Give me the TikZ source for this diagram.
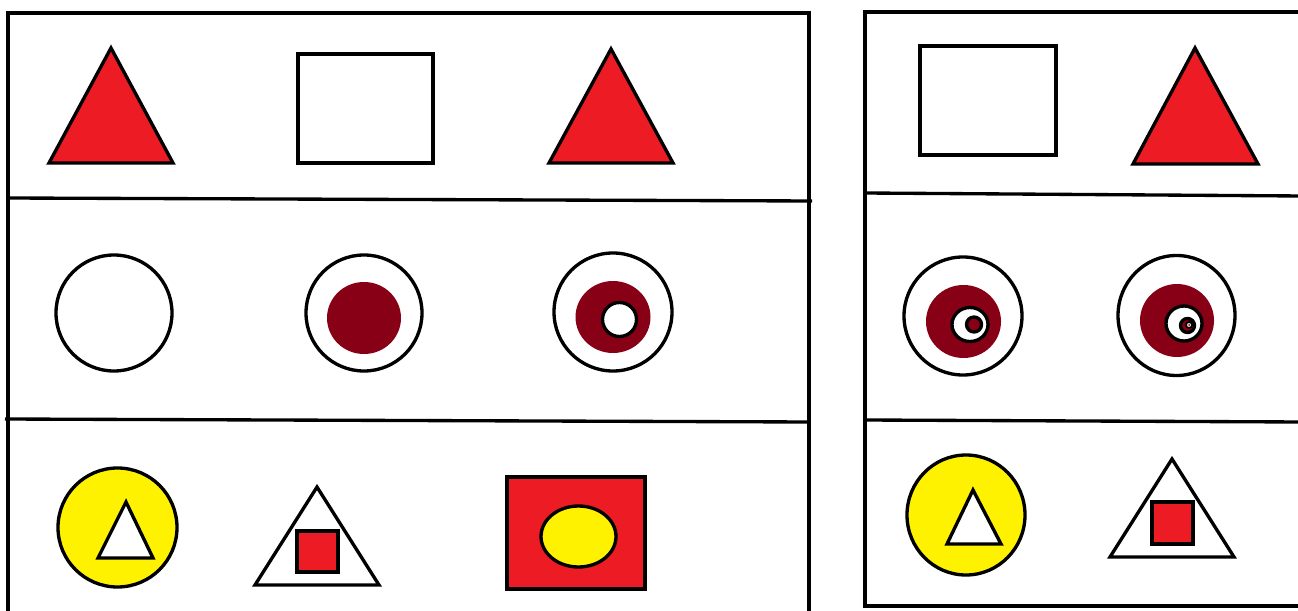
\documentclass[tikz,border=0pt]{standalone}
\usepackage{tikz}
\definecolor{paintred}{HTML}{ED1C24}
\definecolor{darkred}{HTML}{880015}
\definecolor{paintyellow}{HTML}{FFF200}
\tikzset{outline/.style={draw=black, line width=1.9pt, line join=miter},
  redfill/.style={outline, fill=paintred},
  yellowfill/.style={outline, fill=paintyellow},
  whitefill/.style={outline, fill=white}}

\begin{document}
\begin{tikzpicture}[x=0.02cm, y=-0.02cm]
  \useasboundingbox (0,0) rectangle (1298,611);
  \fill[white] (0,0) rectangle (1298,611);
  % left panel
  \draw[outline] (8,615) -- (8,13) -- (809,13) -- (809,615);
  \draw[outline] (8,198) -- (812,201);
  \draw[outline] (5,419) -- (809,422);
  % right panel
  \draw[outline] (1302,12) -- (865,12) -- (865,606) -- (1302,606);
  \draw[outline] (865,193) -- (1302,196);
  \draw[outline] (865,420) -- (1302,422);

  % top row, left
  \draw[redfill] (49,163) -- (111,48) -- (173,163) -- cycle;
  \draw[whitefill] (298,54) rectangle (433,163);
  \draw[redfill] (549,163) -- (611,49) -- (673,163) -- cycle;
  % top row, right
  \draw[whitefill] (920,46) rectangle (1056,155);
  \draw[redfill] (1133,164) -- (1195,48) -- (1258,164) -- cycle;

  % middle row, left
  \draw[whitefill] (114,313) circle (58);
  \draw[whitefill] (364,313) circle (58);
  \fill[darkred] (364,318) ellipse (37 and 36);
  \draw[whitefill] (613,312) circle (59);
  \fill[darkred] (613,317) ellipse (37.5 and 36);
  \draw[whitefill] (619.5,319.5) circle (17);
  % middle row, right
  \draw[whitefill] (963,316) circle (59);
  \fill[darkred] (963.5,321.5) ellipse (37.5 and 36.5);
  \draw[whitefill] (970,324.5) ellipse (18 and 17);
  \draw[outline, fill=darkred] (974,324.5) circle (7.5);
  \draw[whitefill] (1176.5,315.5) ellipse (58.5 and 60);
  \fill[darkred] (1177,320.5) ellipse (37 and 36.5);
  \draw[whitefill] (1184,323.5) ellipse (18 and 17.5);
  \draw[outline, fill=darkred] (1187.5,325.5) circle (7);
  \draw[draw=black, line width=1pt, fill=white] (1189,325) circle (3);
  \fill[darkred] (1189,325) circle (1);

  % bottom row, left
  \draw[yellowfill] (117.5,527.5) circle (59.5);
  \draw[whitefill] (98,558) -- (126,502) -- (153,558) -- cycle;
  \draw[whitefill] (255,585) -- (317,487) -- (379,585) -- cycle;
  \draw[redfill] (297,531) rectangle (338,572);
  \draw[redfill] (507,477) rectangle (645,589);
  \draw[yellowfill] (578.5,536.5) ellipse (37.5 and 30.5);
  % bottom row, right
  \draw[yellowfill] (966,515) ellipse (59 and 60);
  \draw[whitefill] (947,544) -- (973,490) -- (1001,544) -- cycle;
  \draw[whitefill] (1110,557) -- (1172,459) -- (1234,557) -- cycle;
  \draw[redfill] (1152,502) rectangle (1193,544);
\end{tikzpicture}
\end{document}
